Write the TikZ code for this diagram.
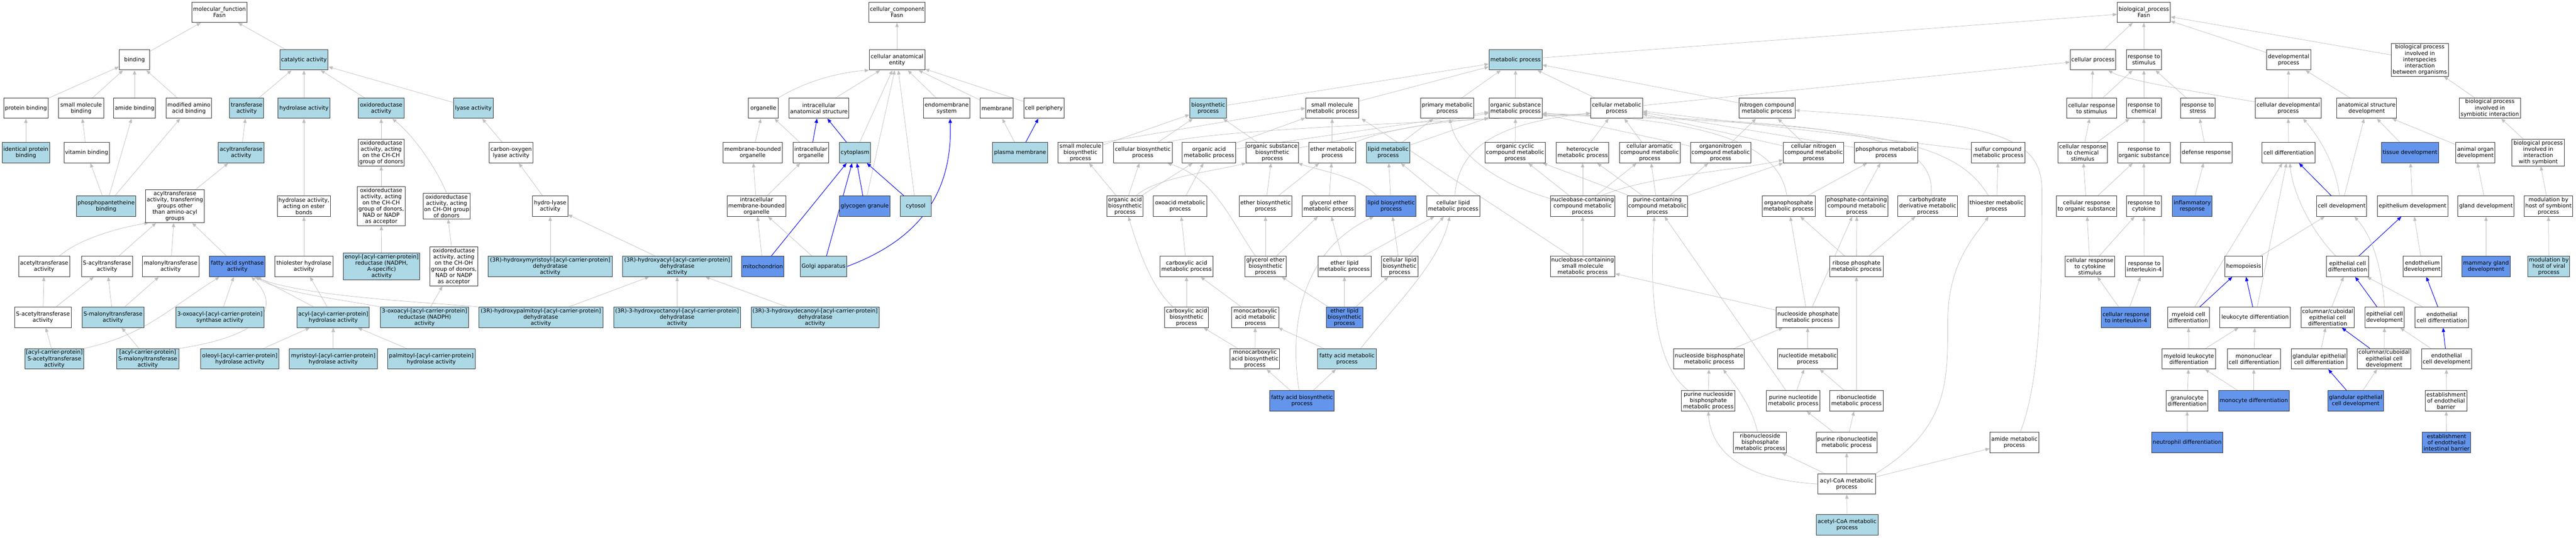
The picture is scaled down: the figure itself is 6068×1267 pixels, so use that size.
\documentclass[tikz,border=0pt]{standalone}
\usepackage{fontspec}
\setmainfont{DejaVu Sans}
\usetikzlibrary{arrows.meta}
\pgfdeclarelayer{edges}
\pgfsetlayers{edges,main}
\definecolor{termblue}{RGB}{173,216,230}
\definecolor{termcore}{RGB}{100,149,237}
\definecolor{linkgray}{RGB}{190,190,190}
\definecolor{linkblue}{RGB}{0,0,255}

\begin{document}
\begin{tikzpicture}[x=1pt, y=-1pt,
	term/.style={draw=black!80, line width=1.2pt, fill=white, align=center,
		inner xsep=2.5pt, inner ysep=3pt, minimum height=48pt,
		font=\fontsize{13}{14.7}\selectfont},
	hit/.style={term, fill=termblue},
	core/.style={term, fill=termcore},
	wd/.style={minimum width=#1pt},
	isa/.style={draw=linkgray, line width=0.9pt, -{Triangle[length=10pt,width=8pt]}},
	partof/.style={draw=linkblue, line width=1.2pt, -{Triangle[length=10pt,width=8pt]}}]

	\useasboundingbox (0,0) rectangle (6068,1267);

	\node[term, wd=131] (MF) at (517,29) {molecular\_function\\Fasn};
	\node[term, wd=72] (Bind) at (317,141) {binding};
	\node[hit, wd=114] (Cat) at (716,141) {catalytic activity};
	\node[term, wd=104] (ProtB) at (61,255) {protein binding};
	\node[term, wd=107] (SmolB) at (191,255) {small molecule\\binding};
	\node[term, wd=98] (AmideB) at (317,255) {amide binding};
	\node[term, wd=107] (ModAA) at (445,255) {modified amino\\acid binding};
	\node[hit, wd=80] (Trans) at (581,255) {transferase\\activity};
	\node[hit, wd=123] (Hydro) at (716,255) {hydrolase activity};
	\node[hit, wd=107] (Oxred) at (898,255) {oxidoreductase\\activity};
	\node[hit, wd=94] (Lyase) at (1115,255) {lyase activity};
	\node[hit, wd=112] (IdProt) at (61,360) {identical protein\\binding};
	\node[term, wd=107] (VitB) at (204,360) {vitamin binding};
	\node[hit, wd=107] (Acyl) at (568,360) {acyltransferase\\activity};
	\node[term, wd=107] (OxCHCH) at (898,360) {oxidoreductase\\activity, acting\\on the CH-CH\\group of donors};
	\node[term, wd=102] (COLyase) at (1204,360) {carbon-oxygen\\lyase activity};
	\node[hit, wd=139] (PPant) at (250,486) {phosphopantetheine\\binding};
	\node[term, wd=139] (AcylOth) at (412,486) {acyltransferase\\activity, transferring\\groups other\\than amino-acyl\\groups};
	\node[term, wd=126] (HydEst) at (716,486) {hydrolase activity,\\acting on ester\\bonds};
	\node[term, wd=112] (OxCHCHN) at (898,486) {oxidoreductase\\activity, acting\\on the CH-CH\\group of donors,\\NAD or NADP\\as acceptor};
	\node[term, wd=110] (OxCHOH) at (1052,486) {oxidoreductase\\activity, acting\\on CH-OH group\\of donors};
	\node[term, wd=83] (HLyase) at (1296,486) {hydro-lyase\\activity};
	\node[term, wd=120] (AcetT) at (104,628) {acetyltransferase\\activity};
	\node[term, wd=120] (SAcyl) at (252,628) {S-acyltransferase\\activity};
	\node[term, wd=133] (MalT) at (402,628) {malonyltransferase\\activity};
	\node[core, wd=131] (FAS) at (559,628) {fatty acid synthase\\activity};
	\node[term, wd=136] (Thiol) at (716,628) {thiolester hydrolase\\activity};
	\node[hit, wd=180] (Enoyl) at (899,628) {enoyl-[acyl-carrier-protein]\\reductase (NADPH,\\A-specific)\\activity};
	\node[term, wd=112] (OxCHOHN) at (1069,628) {oxidoreductase\\activity, acting\\on the CH-OH\\group of donors,\\NAD or NADP\\as acceptor};
	\node[hit, wd=292] (HMyr) at (1296,628) {(3R)-hydroxymyristoyl-[acyl-carrier-protein]\\dehydratase\\activity};
	\node[hit, wd=257] (HAcyl) at (1595,628) {(3R)-hydroxyacyl-[acyl-carrier-protein]\\dehydratase\\activity};
	\node[term, wd=134] (SAcet) at (101,748) {S-acetyltransferase\\activity};
	\node[hit, wd=146] (SMal) at (266,748) {S-malonyltransferase\\activity};
	\node[hit, wd=208] (OxoSyn) at (518,748) {3-oxoacyl-[acyl-carrier-protein]\\synthase activity};
	\node[hit, wd=170] (AcpHyd) at (785,748) {acyl-[acyl-carrier-protein]\\hydrolase activity};
	\node[hit, wd=208] (OxoRed) at (1000,748) {3-oxoacyl-[acyl-carrier-protein]\\reductase (NADPH)\\activity};
	\node[hit, wd=292] (HPalm) at (1274,748) {(3R)-hydroxypalmitoyl-[acyl-carrier-protein]\\dehydratase\\activity};
	\node[hit, wd=298] (HOct) at (1595,748) {(3R)-3-hydroxyoctanoyl-[acyl-carrier-protein]\\dehydratase\\activity};
	\node[hit, wd=301] (HDec) at (1920,748) {(3R)-3-hydroxydecanoyl-[acyl-carrier-protein]\\dehydratase\\activity};
	\node[hit, wd=139] (AcpSA) at (128,846) {[acyl-carrier-protein]\\S-acetyltransferase\\activity};
	\node[hit, wd=147] (AcpSM) at (348,846) {[acyl-carrier-protein]\\S-malonyltransferase\\activity};
	\node[hit, wd=185] (Oleo) at (565,846) {oleoyl-[acyl-carrier-protein]\\hydrolase activity};
	\node[hit, wd=207] (Myri) at (785,846) {myristoyl-[acyl-carrier-protein]\\hydrolase activity};
	\node[hit, wd=206] (Palm) at (1016,846) {palmitoyl-[acyl-carrier-protein]\\hydrolase activity};

	\node[term, wd=133] (CC) at (2113,29) {cellular\_component\\Fasn};
	\node[term, wd=131] (CAE) at (2113,141) {cellular anatomical\\entity};
	\node[term, wd=71] (Orgl) at (1798,255) {organelle};
	\node[term, wd=141] (IAS) at (1929,255) {intracellular\\anatomical structure};
	\node[term, wd=109] (Endo) at (2230,255) {endomembrane\\system};
	\node[term, wd=78] (Memb) at (2348,255) {membrane};
	\node[term, wd=94] (CPer) at (2459,255) {cell periphery};
	\node[term, wd=139] (MBO) at (1773,360) {membrane-bounded\\organelle};
	\node[term, wd=83] (IO) at (1910,360) {intracellular\\organelle};
	\node[hit, wd=73] (Cyto) at (2014,360) {cytoplasm};
	\node[hit, wd=129] (PM) at (2403,360) {plasma membrane};
	\node[term, wd=139] (IMBO) at (1782,486) {intracellular\\membrane-bounded\\organelle};
	\node[core, wd=118] (Glyc) at (2037,486) {glycogen granule};
	\node[hit, wd=72] (Cytosol) at (2157,486) {cytosol};
	\node[core, wd=99] (Mito) at (1797,628) {mitochondrion};
	\node[hit, wd=110] (Golgi) at (1940,628) {Golgi apparatus};

	\node[term, wd=125] (BP) at (5050,29) {biological\_process\\Fasn};
	\node[hit, wd=125] (MP) at (3570,141) {metabolic process};
	\node[term, wd=107] (CProc) at (4930,141) {cellular process};
	\node[term, wd=83] (RStim) at (5050,141) {response to\\stimulus};
	\node[term, wd=104] (DevP) at (5391,141) {developmental\\process};
	\node[term, wd=134] (Inter) at (5700,141) {biological process\\involved in\\interspecies\\interaction\\between organisms};
	\node[hit, wd=87] (Bios) at (2846,255) {biosynthetic\\process};
	\node[term, wd=125] (SMM) at (3138,255) {small molecule\\metabolic process};
	\node[term, wd=126] (Prim) at (3409,255) {primary metabolic\\process};
	\node[term, wd=125] (OSM) at (3570,255) {organic substance\\metabolic process};
	\node[term, wd=122] (CMP) at (3808,255) {cellular metabolic\\process};
	\node[term, wd=131] (NCM) at (4162,255) {nitrogen compound\\metabolic process};
	\node[term, wd=118] (CRS) at (4927,255) {cellular response\\to stimulus};
	\node[term, wd=83] (RChem) at (5050,255) {response to\\chemical};
	\node[term, wd=82] (RStress) at (5177,255) {response to\\stress};
	\node[term, wd=155] (CDP) at (5390,255) {cellular developmental\\process};
	\node[term, wd=141] (ASD) at (5575,255) {anatomical structure\\development};
	\node[term, wd=144] (Symb) at (5865,255) {biological process\\involved in\\symbiotic interaction};
	\node[term, wd=106] (SMB) at (2545,360) {small molecule\\biosynthetic\\process};
	\node[term, wd=138] (CBP) at (2692,360) {cellular biosynthetic\\process};
	\node[term, wd=126] (OAM) at (2848,360) {organic acid\\metabolic process};
	\node[term, wd=122] (OSB) at (2997,360) {organic substance\\biosynthetic\\process};
	\node[term, wd=110] (EthM) at (3138,360) {ether metabolic\\process};
	\node[hit, wd=103] (LipM) at (3270,360) {lipid metabolic\\process};
	\node[term, wd=141] (OCC) at (3569,360) {organic cyclic\\compound metabolic\\process};
	\node[term, wd=124] (Het) at (3728,360) {heterocycle\\metabolic process};
	\node[term, wd=143] (CAro) at (3886,360) {cellular aromatic\\compound metabolic\\process};
	\node[term, wd=142] (OrgN) at (4053,360) {organonitrogen\\compound metabolic\\process};
	\node[term, wd=142] (CNC) at (4272,360) {cellular nitrogen\\compound metabolic\\process};
	\node[term, wd=149] (Phos) at (4443,360) {phosphorus metabolic\\process};
	\node[term, wd=126] (Sulf) at (4707,360) {sulfur compound\\metabolic process};
	\node[term, wd=117] (CRC) at (4906,360) {cellular response\\to chemical\\stimulus};
	\node[term, wd=123] (ROrg) at (5050,360) {response to\\organic substance};
	\node[term, wd=122] (Def) at (5197,360) {defense response};
	\node[term, wd=125] (CDiff) at (5391,360) {cell differentiation};
	\node[core, wd=134] (Tissue) at (5677,360) {tissue development};
	\node[term, wd=92] (Organ) at (5831,360) {animal organ\\development};
	\node[term, wd=124] (WSymb) at (5979,360) {biological process\\involved in\\interaction\\with symbiont};
	\node[term, wd=85] (OAB) at (2650,486) {organic acid\\biosynthetic\\process};
	\node[term, wd=126] (Oxo) at (2780,486) {oxoacid metabolic\\process};
	\node[term, wd=123] (EthB) at (2981,486) {ether biosynthetic\\process};
	\node[term, wd=125] (GEM) at (3130,486) {glycerol ether\\metabolic process};
	\node[core, wd=118] (LipB) at (3277,486) {lipid biosynthetic\\process};
	\node[term, wd=125] (CLM) at (3423,486) {cellular lipid\\metabolic process};
	\node[term, wd=152] (NBC) at (3728,486) {nucleobase-containing\\compound metabolic\\process};
	\node[term, wd=141] (PurC) at (3904,486) {purine-containing\\compound metabolic\\process};
	\node[term, wd=125] (OrgP) at (4213,486) {organophosphate\\metabolic process};
	\node[term, wd=147] (PhosC) at (4374,486) {phosphate-containing\\compound metabolic\\process};
	\node[term, wd=141] (Carb) at (4541,486) {carbohydrate\\derivative metabolic\\process};
	\node[term, wd=134] (Thio) at (4703,486) {thioester metabolic\\process};
	\node[term, wd=142] (CROS) at (4915,486) {cellular response\\to organic substance};
	\node[term, wd=83] (RCyt) at (5050,486) {response to\\cytokine};
	\node[core, wd=94] (Infl) at (5164,486) {inflammatory\\response};
	\node[term, wd=118] (CDev) at (5516,486) {cell development};
	\node[term, wd=166] (Epi) at (5683,486) {epithelium development};
	\node[term, wd=132] (Gland) at (5856,486) {gland development};
	\node[term, wd=115] (ModS) at (6003,486) {modulation by\\host of symbiont\\process};
	\node[term, wd=125] (CAM) at (2795,628) {carboxylic acid\\metabolic process};
	\node[term, wd=97] (GEB) at (2981,628) {glycerol ether\\biosynthetic\\process};
	\node[term, wd=125] (ELM) at (3167,628) {ether lipid\\metabolic process};
	\node[term, wd=86] (CLB) at (3297,628) {cellular lipid\\biosynthetic\\process};
	\node[term, wd=152] (NBSM) at (3728,628) {nucleobase-containing\\small molecule\\metabolic process};
	\node[term, wd=126] (RibP) at (4373,628) {ribose phosphate\\metabolic process};
	\node[term, wd=117] (CRCS) at (4923,628) {cellular response\\to cytokine\\stimulus};
	\node[term, wd=88] (RIL4) at (5051,628) {response to\\interleukin-4};
	\node[term, wd=89] (Hemo) at (5285,628) {hemopoiesis};
	\node[term, wd=99] (ECD) at (5530,628) {epithelial cell\\differentiation};
	\node[term, wd=91] (Endoth) at (5706,628) {endothelium\\development};
	\node[core, wd=114] (Mamm) at (5856,628) {mammary gland\\development};
	\node[hit, wd=98] (ModV) at (6004,628) {modulation by\\host of viral\\process};
	\node[term, wd=104] (CAB) at (2795,748) {carboxylic acid\\biosynthetic\\process};
	\node[term, wd=111] (MCAM) at (2957,748) {monocarboxylic\\acid metabolic\\process};
	\node[core, wd=86] (ELB) at (3167,748) {ether lipid\\biosynthetic\\process};
	\node[term, wd=147] (NP) at (4258,748) {nucleoside phosphate\\metabolic process};
	\node[core, wd=117] (CRIL4) at (5008,748) {cellular response\\to interleukin-4};
	\node[term, wd=98] (MCD) at (5155,748) {myeloid cell\\differentiation};
	\node[term, wd=166] (LeukD) at (5312,748) {leukocyte differentiation};
	\node[term, wd=126] (CCECD) at (5483,748) {columnar/cuboidal\\epithelial cell\\differentiation};
	\node[term, wd=93] (ECDev) at (5617,748) {epithelial cell\\development};
	\node[term, wd=126] (EnCD) at (5752,748) {endothelial\\cell differentiation};
	\node[term, wd=116] (MCAB) at (2956,846) {monocarboxylic\\acid biosynthetic\\process};
	\node[hit, wd=138] (FAM) at (3173,846) {fatty acid metabolic\\process};
	\node[term, wd=165] (NBP) at (4026,846) {nucleoside bisphosphate\\metabolic process};
	\node[term, wd=141] (Nucl) at (4258,846) {nucleotide metabolic\\process};
	\node[term, wd=126] (MLD) at (5156,846) {myeloid leukocyte\\differentiation};
	\node[term, wd=125] (MonoD) at (5309,846) {mononuclear\\cell differentiation};
	\node[term, wd=131] (GECD) at (5463,846) {glandular epithelial\\cell differentiation};
	\node[term, wd=125] (CCECDev) at (5616,846) {columnar/cuboidal\\epithelial cell\\development};
	\node[term, wd=118] (EnCDev) at (5763,846) {endothelial\\cell development};
	\node[core, wd=152] (FAB) at (3067,945) {fatty acid biosynthetic\\process};
	\node[term, wd=126] (PNBP) at (4024,945) {purine nucleoside\\bisphosphate\\metabolic process};
	\node[term, wd=126] (PurN) at (4224,945) {purine nucleotide\\metabolic process};
	\node[term, wd=126] (RibN) at (4373,945) {ribonucleotide\\metabolic process};
	\node[term, wd=98] (Gran) at (5152,945) {granulocyte\\differentiation};
	\node[core, wd=166] (Mono) at (5309,945) {monocyte differentiation};
	\node[core, wd=131] (GECDev) at (5549,945) {glandular epithelial\\cell development};
	\node[term, wd=98] (EEB) at (5762,945) {establishment\\of endothelial\\barrier};
	\node[term, wd=125] (RNBP) at (4146,1043) {ribonucleoside\\bisphosphate\\metabolic process};
	\node[term, wd=143] (PurRN) at (4350,1043) {purine ribonucleotide\\metabolic process};
	\node[term, wd=115] (Amide) at (4745,1043) {amide metabolic\\process};
	\node[core, wd=168] (Neut) at (5152,1043) {neutrophil differentiation};
	\node[core, wd=114] (EEIB) at (5763,1043) {establishment\\of endothelial\\intestinal barrier};
	\node[term, wd=135] (AcylCoA) at (4350,1141) {acyl-CoA metabolic\\process};
	\node[hit, wd=146] (AcetCoA) at (4351,1237) {acetyl-CoA metabolic\\process};

	\begin{pgfonlayer}{edges}
	\draw[isa] (Bind) -- (MF);
	\draw[isa] (Cat) -- (MF);
	\draw[isa] (ProtB) -- (Bind);
	\draw[isa] (SmolB) -- (Bind);
	\draw[isa] (AmideB) -- (Bind);
	\draw[isa] (ModAA) -- (Bind);
	\draw[isa] (Trans) -- (Cat);
	\draw[isa] (Hydro) -- (Cat);
	\draw[isa] (Oxred) -- (Cat);
	\draw[isa] (Lyase) -- (Cat);
	\draw[isa] (IdProt) -- (ProtB);
	\draw[isa] (VitB) -- (SmolB);
	\draw[isa] (Acyl) -- (Trans);
	\draw[isa] (OxCHCH) -- (Oxred);
	\draw[isa] (OxCHOH.north) .. controls (1030,400) and (975,320) .. ([xshift=26pt]Oxred.south);
	\draw[isa] (COLyase) -- (Lyase);
	\draw[isa] (PPant) -- (VitB);
	\draw[isa] (PPant) -- (AmideB);
	\draw[isa] (PPant) -- (ModAA);
	\draw[isa] (AcylOth) -- (Acyl);
	\draw[isa] (HydEst) -- (Hydro);
	\draw[isa] (OxCHCHN) -- (OxCHCH);
	\draw[isa] (HLyase) -- (COLyase);
	\draw[isa] ([xshift=36pt]AcetT.north) .. controls (190,560) and (290,535) .. ([xshift=-62pt]AcylOth.south);
	\draw[isa] (SAcyl) -- (AcylOth);
	\draw[isa] (MalT) -- (AcylOth);
	\draw[isa] (FAS) -- (AcylOth);
	\draw[isa] (Thiol) -- (HydEst);
	\draw[isa] (Enoyl) -- (OxCHCHN);
	\draw[isa] (OxCHOHN) -- (OxCHOH);
	\draw[isa] (HMyr) -- (HLyase);
	\draw[isa] (HAcyl) -- (HLyase);
	\draw[isa] (SAcet) -- (AcetT);
	\draw[isa] (SAcet) -- (SAcyl);
	\draw[isa] (SMal) -- (SAcyl);
	\draw[isa] (SMal) -- (MalT);
	\draw[isa] (OxoSyn) -- (FAS);
	\draw[isa] (AcpHyd) -- (FAS);
	\draw[isa] (AcpHyd) -- (Thiol);
	\draw[isa] (OxoRed.north west) .. controls (800,705) and (660,690) .. ([xshift=43pt]FAS.south);
	\draw[isa] (OxoRed) -- (OxCHOHN);
	\draw[isa] (HPalm.north west) .. controls (1000,712) and (720,700) .. ([xshift=40pt]FAS.south);
	\draw[isa] (HPalm) -- (HAcyl);
	\draw[isa] (HOct) -- (HAcyl);
	\draw[isa] (HDec) -- (HAcyl);
	\draw[isa] (AcpSA) -- (SAcet);
	\draw[isa] (AcpSA.north east) .. controls (340,790) and (395,730) .. ([xshift=-42pt]FAS.south);
	\draw[isa] (AcpSM) -- (SMal);
	\draw[isa] (AcpSM.north east) .. controls (630,790) and (660,720) .. ([xshift=33pt]FAS.south);
	\draw[isa] (Oleo) -- (AcpHyd);
	\draw[isa] (Myri) -- (AcpHyd);
	\draw[isa] (Palm) -- (AcpHyd);

	\draw[isa] (CAE) -- (CC);
	\draw[isa] (Orgl.north east) .. controls (1900,190) and (1980,170) .. (CAE.south west);
	\draw[isa] (IAS) -- (CAE);
	\draw[isa] (Cyto) -- (CAE);
	\draw[isa] (Glyc) -- (CAE);
	\draw[isa] (Cytosol) -- (CAE);
	\draw[isa] (Endo) -- (CAE);
	\draw[isa] (Memb) -- (CAE);
	\draw[isa] (CPer) -- (CAE);
	\draw[isa] (MBO) -- (Orgl);
	\draw[isa] (IO) -- (Orgl);
	\draw[partof] (IO) -- (IAS);
	\draw[partof] (Cyto) -- (IAS);
	\draw[isa] (IMBO) -- (MBO);
	\draw[isa] (IMBO) -- (IO);
	\draw[isa] (Mito) -- (IMBO);
	\draw[partof] (Mito) -- (Cyto);
	\draw[isa] (Golgi) -- (IMBO);
	\draw[partof] (Golgi) -- (Cyto);
	\draw[partof] (Golgi.east) .. controls (2150,570) and (2245,470) .. ([xshift=8pt]Endo.south);
	\draw[partof] (Glyc) -- (Cyto);
	\draw[partof] (Cytosol) -- (Cyto);
	\draw[isa] (PM) -- (Memb);
	\draw[partof] (PM) -- (CPer);

	\draw[isa] (MP) -- (BP);
	\draw[isa] (CProc) -- (BP);
	\draw[isa] (RStim) -- (BP);
	\draw[isa] (DevP) -- (BP);
	\draw[isa] (Inter) -- (BP);
	\draw[isa] (Bios) -- (MP);
	\draw[isa] (SMM) -- (MP);
	\draw[isa] (Prim) -- (MP);
	\draw[isa] (OSM) -- (MP);
	\draw[isa] (CMP) -- (MP);
	\draw[isa] (NCM) -- (MP);
	\draw[isa] (CMP) -- (CProc);
	\draw[isa] (SMB) -- (Bios);
	\draw[isa] (CBP) -- (Bios);
	\draw[isa] (OSB) -- (Bios);
	\draw[isa] (SMB.north east) -- (SMM.west);
	\draw[isa] (OAM) -- (SMM);
	\draw[isa] (EthM) -- (SMM);
	\draw[isa] ([xshift=-28pt]NBSM.north) -- ([xshift=69pt]SMM.south);
	\draw[isa] ([xshift=56pt]CBP.north) .. controls (2900,300) and (3500,285) .. ([yshift=-12pt]CMP.west);
	\draw[isa] (OAM) -- (OSM);
	\draw[isa] (OSB) -- (OSM);
	\draw[isa] (EthM.north east) .. controls (3260,305) and (3400,285) .. (OSM.south west);
	\draw[isa] (LipM) -- (Prim);
	\draw[isa] (LipM) -- (OSM);
	\draw[isa] (OCC) -- (OSM);
	\draw[isa] (Het) -- (CMP);
	\draw[isa] (CAro) -- (CMP);
	\draw[isa] (OrgN) -- (OSM);
	\draw[isa] (OrgN) -- (NCM);
	\draw[isa] (CNC) -- (NCM);
	\draw[isa] (CNC) -- (CMP);
	\draw[isa] (Phos) -- (CMP);
	\draw[isa] (Sulf) -- (CMP);
	\draw[isa] (OAB) -- (SMB);
	\draw[isa] (OAB) -- (CBP);
	\draw[isa] (OAB) -- (OAM);
	\draw[isa] ([xshift=26pt]OAB.north) .. controls (2720,420) and (2850,405) .. ([xshift=-62pt]OSB.south);
	\draw[isa] (Oxo) -- (OAM);
	\draw[isa] (EthB) -- (OSB);
	\draw[isa] (EthB) -- (EthM);
	\draw[isa] (GEM) -- (EthM);
	\draw[isa] (LipB) -- (LipM);
	\draw[isa] ([xshift=-34pt]LipB.north) .. controls (3200,415) and (3100,400) .. ([xshift=61pt]OSB.south);
	\draw[isa] (CLM) -- (LipM);
	\draw[isa] ([xshift=4pt]CLM.north) .. controls (3435,350) and (3520,290) .. ([yshift=-12pt]CMP.west);
	\draw[isa] (NBC) -- (OCC);
	\draw[isa] (NBC) -- (Het);
	\draw[isa] (NBC) -- (CAro);
	\draw[isa] ([xshift=44pt]NBC.north) .. controls (3880,415) and (4100,400) .. ([yshift=-17pt]CNC.west);
	\draw[isa] ([yshift=18pt]NBC.west) .. controls (3520,430) and (3430,360) .. ([xshift=6pt]Prim.south);
	\draw[isa] (PurC) -- (OCC);
	\draw[isa] (PurC) -- (Het);
	\draw[isa] (PurC) -- (CAro);
	\draw[isa] (PurC) -- (OrgN);
	\draw[isa] (PurC) -- (CNC);
	\draw[isa] ([xshift=-4pt]OrgP.north) .. controls (4190,330) and (4000,280) .. ([yshift=-12pt]OSM.east);
	\draw[isa] (OrgP) -- (Phos);
	\draw[isa] (PhosC) -- (Phos);
	\draw[isa] ([xshift=8pt]Carb.north) .. controls (4560,330) and (4400,285) .. ([yshift=-14pt]OSM.east);
	\draw[isa] (Thio) -- (Sulf);
	\draw[isa] ([xshift=-19pt]Thio.north) .. controls (4610,340) and (4450,290) .. ([yshift=-16pt]OSM.east);
	\draw[isa] (CAM) -- (Oxo);
	\draw[isa] (GEB) -- (EthB);
	\draw[isa] ([xshift=-24pt]GEB.north) .. controls (2900,520) and (2860,420) .. ([xshift=58pt]CBP.south);
	\draw[isa] (GEB) -- (GEM);
	\draw[isa] (ELM) -- (GEM);
	\draw[isa] (ELM) -- (CLM);
	\draw[isa] (CLB) -- (LipB);
	\draw[isa] (CLB) -- (CLM);
	\draw[isa] (NBSM) -- (NBC);
	\draw[isa] (RibP) -- (OrgP);
	\draw[isa] (RibP) -- (PhosC);
	\draw[isa] (RibP) -- (Carb);
	\draw[isa] (CAB) -- (CAM);
	\draw[isa] ([xshift=-32pt]CAB.north) .. controls (2715,680) and (2685,600) .. ([xshift=8pt]OAB.south);
	\draw[isa] (MCAM) -- (CAM);
	\draw[isa] (ELB) -- (GEB);
	\draw[isa] (ELB) -- (ELM);
	\draw[isa] (ELB) -- (CLB);
	\draw[isa] (NP) -- (OrgP);
	\draw[isa] (NP) -- (PhosC);
	\draw[isa] (NP) -- (NBSM);
	\draw[isa] (MCAB) -- (CAB);
	\draw[isa] (MCAB) -- (MCAM);
	\draw[isa] (FAM) -- (MCAM);
	\draw[isa] ([xshift=32pt]FAM.north) .. controls (3290,715) and (3390,620) .. ([xshift=-8pt]CLM.south);
	\draw[isa] (NBP) -- (NP);
	\draw[isa] (Nucl) -- (NP);
	\draw[isa] (FAB) -- (MCAB);
	\draw[isa] (FAB) -- (FAM);
	\draw[isa] ([xshift=-7pt]FAB.north) .. controls (3035,760) and (3070,590) .. ([xshift=-41pt]LipB.south);
	\draw[isa] (PNBP) -- (NBP);
	\draw[isa] ([xshift=-47pt]PNBP.north) .. controls (3895,860) and (3885,680) .. ([xshift=-7pt]PurC.south);
	\draw[isa] (PurN) -- (Nucl);
	\draw[isa] (PurN) -- (PurC);
	\draw[isa] (RibN) -- (Nucl);
	\draw[isa] (RibN) -- (RibP);
	\draw[isa] ([xshift=-6pt]RNBP.north) .. controls (4125,950) and (4080,900) .. ([xshift=33pt]NBP.south);
	\draw[isa] (PurRN) -- (PurN);
	\draw[isa] (PurRN) -- (RibN);
	\draw[isa] ([xshift=14pt]Amide.north) .. controls (4805,900) and (4810,700) .. (4810,450) .. controls (4810,320) and (4700,290) .. ([yshift=-5pt]NCM.east);
	\draw[isa] (AcylCoA) -- (RNBP);
	\draw[isa] (AcylCoA) -- (PurRN);
	\draw[isa] (AcylCoA) -- (Amide);
	\draw[isa] (AcylCoA.north east) .. controls (4590,1010) and (4588,900) .. (4588,760) .. controls (4588,620) and (4650,560) .. ([xshift=-19pt]Thio.south);
	\draw[isa] (AcylCoA.west) .. controls (4100,1130) and (4030,1060) .. (PNBP.south);
	\draw[isa] (AcetCoA) -- (AcylCoA);

	\draw[isa] (CRS) -- (CProc);
	\draw[isa] (CRS) -- (RStim);
	\draw[isa] (RChem) -- (RStim);
	\draw[isa] (RStress) -- (RStim);
	\draw[isa] (CDP) -- (DevP);
	\draw[isa] ([yshift=15pt]CDP.west) .. controls (5100,205) and (5000,185) .. ([xshift=36pt]CProc.south);
	\draw[isa] (ASD) -- (DevP);
	\draw[isa] (Symb) -- (Inter);
	\draw[isa] (CRC) -- (CRS);
	\draw[isa] (CRC) -- (RChem);
	\draw[isa] (ROrg) -- (RChem);
	\draw[isa] (Def) -- (RStress);
	\draw[isa] (CDiff) -- (CDP);
	\draw[isa] (Tissue) -- (ASD);
	\draw[isa] (Organ) -- (ASD);
	\draw[isa] (WSymb) -- (Symb);
	\draw[isa] (CROS) -- (CRC);
	\draw[isa] (CROS) -- (ROrg);
	\draw[isa] (RCyt) -- (ROrg);
	\draw[isa] (Infl) -- (Def);
	\draw[partof] (CDev) -- (CDiff);
	\draw[isa] ([xshift=-5pt]CDev.north) .. controls (5500,380) and (5460,320) .. ([xshift=35pt]CDP.south);
	\draw[isa] (CDev) -- (ASD);
	\draw[isa] (Epi) -- (Tissue);
	\draw[isa] (Gland) -- (Organ);
	\draw[isa] (ModS) -- (WSymb);
	\draw[isa] (CRCS) -- (CROS);
	\draw[isa] (CRCS) -- (RCyt);
	\draw[isa] (RIL4) -- (RCyt);
	\draw[isa] (Hemo) -- (CDev);
	\draw[isa] ([xshift=-28pt]ECD.north) .. controls (5440,540) and (5400,450) .. ([xshift=3pt]CDiff.south);
	\draw[partof] (ECD) -- (Epi);
	\draw[isa] (Endoth) -- (Epi);
	\draw[isa] (Mamm) -- (Gland);
	\draw[isa] (ModV) -- (ModS);
	\draw[isa] (CRIL4) -- (CRCS);
	\draw[isa] (CRIL4) -- (RIL4);
	\draw[partof] (MCD) -- (Hemo);
	\draw[isa] (MCD) -- (CDiff);
	\draw[partof] (LeukD) -- (Hemo);
	\draw[isa] (LeukD) -- (CDiff);
	\draw[isa] (CCECD) -- (ECD);
	\draw[partof] (ECDev) -- (ECD);
	\draw[isa] (ECDev.north) .. controls (5610,630) and (5590,560) .. ([xshift=30pt]CDev.south);
	\draw[isa] (EnCD) -- (ECD);
	\draw[partof] (EnCD) -- (Endoth);
	\draw[isa] (MLD) -- (MCD);
	\draw[isa] (MLD) -- (LeukD);
	\draw[isa] (MonoD) -- (LeukD);
	\draw[isa] (GECD) -- (CCECD);
	\draw[partof] (CCECDev) -- (CCECD);
	\draw[isa] (CCECDev) -- (ECDev);
	\draw[isa] (EnCDev) -- (ECDev);
	\draw[partof] (EnCDev) -- (EnCD);
	\draw[isa] (Gran) -- (MLD);
	\draw[isa] (Mono) -- (MLD);
	\draw[isa] (Mono) -- (MonoD);
	\draw[partof] (GECDev) -- (GECD);
	\draw[isa] (GECDev) -- (CCECDev);
	\draw[isa] (EEB) -- (EnCDev);
	\draw[isa] (Neut) -- (Gran);
	\draw[isa] (EEIB) -- (EEB);
	\end{pgfonlayer}

\end{tikzpicture}
\end{document}
